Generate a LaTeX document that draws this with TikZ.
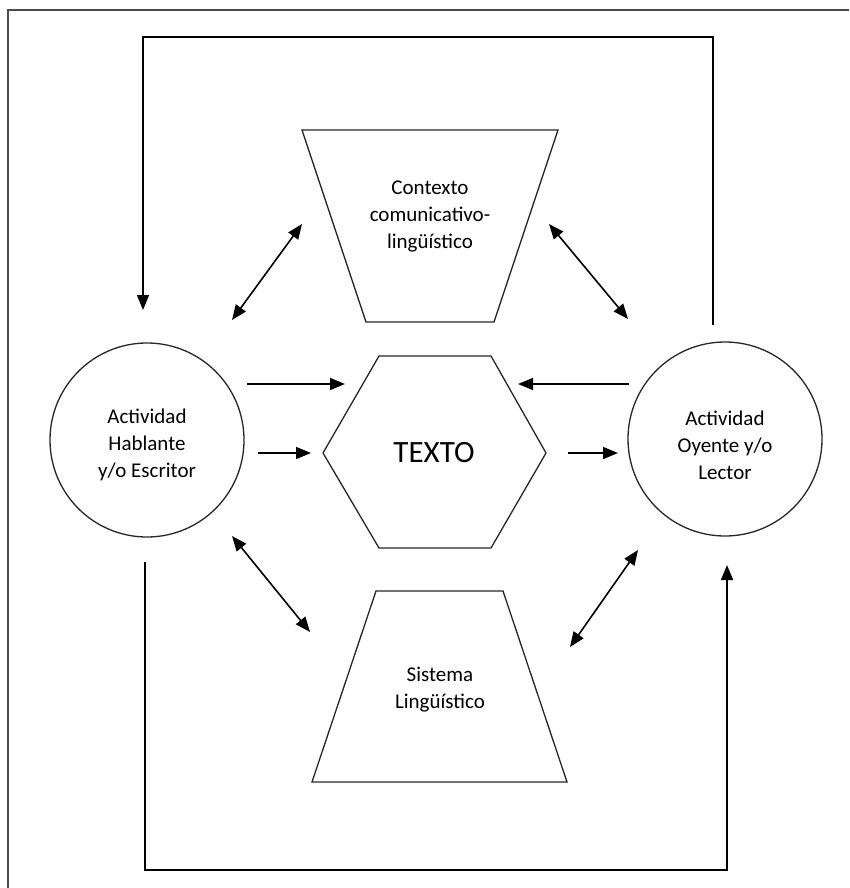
\documentclass[tikz,border=0pt]{standalone}
\usepackage{fontspec}
\setmainfont{Carlito}
\usetikzlibrary{arrows.meta}
\begin{document}
\begin{tikzpicture}[x=1pt,y=-1pt,
  outline/.style={line width=1.3pt, draw=black!85},
  tip/.style={Triangle[length=15pt,width=12pt]},
  link/.style={line width=1.6pt, -{Triangle[length=15pt,width=12pt]}},
  both/.style={line width=1.6pt, {Triangle[length=15pt,width=12pt]}-{Triangle[length=15pt,width=12pt]}},
  caption/.style={font=\fontsize{21}{27}\selectfont, align=center, inner sep=0pt},
  actor/.style={circle, outline, minimum size=194pt, inner sep=0pt},
]
\useasboundingbox (0,0) rectangle (849,888);

% page frame (top and left edges)
\draw[line width=1.6pt, black!70] (8,888) -- (8,10) -- (849,10);

% speaker / listener circles
\node[actor] (hab) at (147,440) {};
\node[caption] (habtxt) at (147,445) {Actividad\\Hablante\\y/o Escritor};
\node[actor] (oye) at (725,439) {};
\node[caption] (oyetxt) at (725,445) {Actividad\\Oyente y/o\\Lector};

% context (inverted trapezoid)
\draw[outline] (302,130) coordinate (ctl) -- (558,130) coordinate (ctr)
  -- (494,322) coordinate (cbr) -- (366,322) coordinate (cbl) -- cycle;
\node[caption] (ctx) at (430,216) {Contexto\\comunicativo-\\lingüístico};

% linguistic system (trapezoid)
\draw[outline] (376,591) coordinate (stl) -- (503,591) coordinate (str)
  -- (567,782) coordinate (sbr) -- (312,782) coordinate (sbl) -- cycle;
\node[caption] (sis) at (440,690) {Sistema\\Lingüístico};

% text (hexagon)
\draw[outline] (379,356) -- (491,356) -- (546,453) -- (491,548)
  -- (379,548) -- (323,453) -- cycle;
\node[font=\fontsize{31}{36}\selectfont, inner sep=0pt] (txt) at (434,453) {TEXTO};

% arrow end points
\coordinate (h1a) at (247,384);  \coordinate (h1b) at (345,384);
\coordinate (h2a) at (258,453);  \coordinate (h2b) at (311,453);
\coordinate (o1a) at (629,384);  \coordinate (o1b) at (518,384);
\coordinate (o2a) at (568,453);  \coordinate (o2b) at (618,453);
\coordinate (d1a) at (232,320);  \coordinate (d1b) at (302,224);
\coordinate (d2a) at (549,224);  \coordinate (d2b) at (628,319);
\coordinate (d3a) at (232,536);  \coordinate (d3b) at (310,632);
\coordinate (d4a) at (570,647);  \coordinate (d4b) at (638,550);
\coordinate (topS) at (713,325); \coordinate (topE) at (143,310);
\coordinate (botS) at (145,562); \coordinate (botE) at (727,565);

% horizontal arrows toward and from the text
\draw[link] (h1a) -- (h1b);
\draw[link] (h2a) -- (h2b);
\draw[link] (o1a) -- (o1b);
\draw[link] (o2a) -- (o2b);

% two-way arrows with context and system
\draw[both] (d1a) -- (d1b);
\draw[both] (d2a) -- (d2b);
\draw[both] (d3a) -- (d3b);
\draw[both] (d4a) -- (d4b);

% feedback loops
\draw[link] (topS) |- (143,37) -- (topE);
\draw[link] (botS) |- (727,870) -- (botE);
\end{tikzpicture}
\end{document}
